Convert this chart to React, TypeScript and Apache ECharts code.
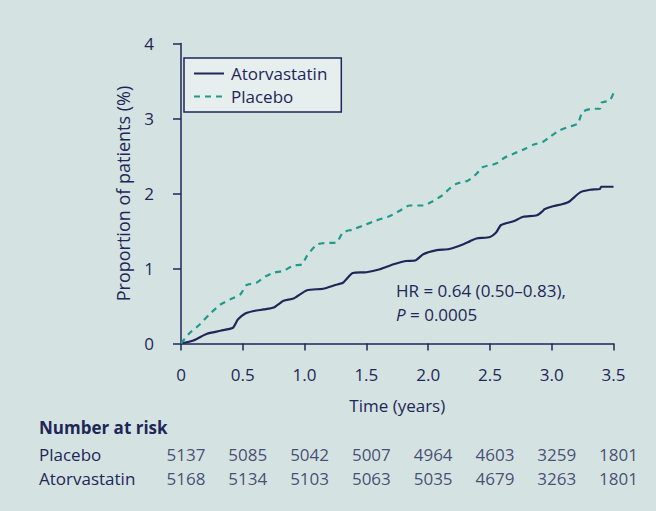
import React, { useEffect, useRef } from "react";
import * as echarts from "echarts";

const NAVY = "#1f2658";
const TEAL = "#1f9a8c";
const BG = "#d4e3e1";
const FONT = "Open Sans";

const riskTimes = [0, 0.5, 1, 1.5, 2, 2.5, 3, 3.5];
const riskGroups = ["Placebo", "Atorvastatin"];
const placeboRisk = [5137, 5085, 5042, 5007, 4964, 4603, 3259, 1801];
const atorvaRisk = [5168, 5134, 5103, 5063, 5035, 4679, 3263, 1801];

const atorvastatin = [
  [0, 0], [0.1, 0.04], [0.21, 0.13], [0.32, 0.17], [0.42, 0.21], [0.46, 0.32], [0.52, 0.4],
  [0.58, 0.43], [0.67, 0.455], [0.75, 0.48], [0.83, 0.57], [0.91, 0.6], [1.02, 0.71],
  [1.15, 0.73], [1.25, 0.78], [1.31, 0.81], [1.39, 0.94], [1.5, 0.95], [1.61, 0.99],
  [1.72, 1.056], [1.82, 1.1], [1.9, 1.11], [1.96, 1.19], [2.07, 1.245], [2.17, 1.26],
  [2.28, 1.32], [2.34, 1.365], [2.39, 1.4], [2.5, 1.42], [2.55, 1.48], [2.59, 1.58],
  [2.69, 1.63], [2.77, 1.69], [2.88, 1.71], [2.93, 1.77], [2.94, 1.79], [3.01, 1.83],
  [3.09, 1.86], [3.14, 1.89], [3.23, 2.015], [3.31, 2.05], [3.39, 2.06], [3.4, 2.09], [3.5, 2.09],
];

const placebo = [
  [0, 0], [0.07, 0.14], [0.15, 0.25], [0.23, 0.39], [0.32, 0.52], [0.4, 0.59], [0.48, 0.655],
  [0.53, 0.78], [0.61, 0.81], [0.69, 0.9], [0.75, 0.945], [0.83, 0.97], [0.91, 1.04],
  [0.98, 1.056], [1.02, 1.17], [1.1, 1.32], [1.18, 1.34], [1.26, 1.35], [1.31, 1.48],
  [1.39, 1.52], [1.47, 1.57], [1.58, 1.64], [1.69, 1.7], [1.77, 1.77], [1.85, 1.84],
  [1.96, 1.84], [2.03, 1.89], [2.11, 1.97], [2.17, 2.06], [2.23, 2.13], [2.32, 2.17],
  [2.39, 2.26], [2.44, 2.35], [2.55, 2.4], [2.62, 2.48], [2.69, 2.53], [2.79, 2.6],
  [2.85, 2.65], [2.93, 2.69], [2.98, 2.75], [3.06, 2.84], [3.14, 2.89], [3.21, 2.93],
  [3.25, 3.09], [3.33, 3.13], [3.39, 3.13], [3.4, 3.21], [3.47, 3.24], [3.5, 3.34],
];

export default function App() {
  const ref = useRef<HTMLDivElement>(null);
  useEffect(() => {
    document.body.style.margin = "0";
    const chart = echarts.init(ref.current!, null, { renderer: "svg" });
    const riskData: any[] = [];
    riskTimes.forEach((t, i) => {
      riskData.push([t, 0, placeboRisk[i]]);
      riskData.push([t, 1, atorvaRisk[i]]);
    });
    const txt = { color: NAVY, fontFamily: FONT, fontSize: 17 };
    chart.setOption({
      animation: false,
      backgroundColor: BG,
      textStyle: { fontFamily: FONT, color: NAVY },
      grid: [
        { left: 181, right: 42.5, top: 43.5, bottom: 167.5 },
        { left: 181, right: 42.5, top: 442, height: 48 },
      ],
      legend: {
        orient: "vertical",
        left: 184,
        top: 58,
        padding: [7, 14, 7, 9],
        itemGap: 6,
        itemWidth: 30,
        itemHeight: 12,
        itemStyle: { opacity: 0 },
        backgroundColor: "#e6efee",
        borderColor: NAVY,
        borderWidth: 1.5,
        borderRadius: 0,
        textStyle: { ...txt, padding: [0, 0, 0, 2] },
        data: ["Atorvastatin", "Placebo"],
      },
      xAxis: [
        {
          type: "value",
          gridIndex: 0,
          min: 0,
          max: 3.5,
          interval: 0.5,
          offset: 9,
          name: "Time (years)",
          nameLocation: "middle",
          nameGap: 44,
          nameTextStyle: txt,
          axisLine: { show: true, lineStyle: { color: NAVY, width: 1.5 } },
          axisTick: { show: true, length: 7, lineStyle: { color: NAVY, width: 1.5 } },
          axisLabel: {
            ...txt,
            margin: 13,
            formatter: (v: number) => (v === 0 ? "0" : v.toFixed(1)),
          },
          splitLine: { show: false },
        },
        {
          type: "value",
          gridIndex: 1,
          min: 0,
          max: 3.5,
          show: false,
        },
      ],
      yAxis: [
        {
          type: "value",
          gridIndex: 0,
          min: 0,
          max: 4,
          interval: 1,
          offset: 13,
          name: "Proportion of patients (%)",
          nameLocation: "middle",
          nameGap: 36,
          nameTextStyle: { ...txt, fontSize: 18 },
          axisLine: { show: true, lineStyle: { color: NAVY, width: 1.5 } },
          axisTick: { show: true, length: 8, lineStyle: { color: NAVY, width: 1.5 } },
          axisLabel: { ...txt, margin: 14 },
          splitLine: { show: false },
        },
        {
          type: "category",
          gridIndex: 1,
          data: riskGroups,
          inverse: true,
          axisLine: { show: false },
          axisTick: { show: false },
          axisLabel: { ...txt, align: "left", margin: 142 },
        },
      ],
      graphic: [
        {
          type: "text",
          left: 39,
          top: 419,
          style: { text: "Number at risk", font: `bold 17px "${FONT}"`, fill: NAVY },
        },
        {
          type: "text",
          left: 396,
          top: 282,
          style: { text: "HR = 0.64 (0.50–0.83),", font: `17px "${FONT}"`, fill: NAVY },
        },
        {
          type: "text",
          left: 396,
          top: 306,
          style: {
            text: "{i|P} = 0.0005",
            font: `17px "${FONT}"`,
            fill: NAVY,
            rich: { i: { fontStyle: "italic", fontFamily: FONT, fontSize: 17, fill: NAVY } },
          },
        },
      ],
      series: [
        {
          name: "Atorvastatin",
          type: "line",
          xAxisIndex: 0,
          yAxisIndex: 0,
          data: atorvastatin,
          symbol: "none",
          smooth: 0.2,
          lineStyle: { color: NAVY, width: 2.2 },
          itemStyle: { color: NAVY },
        },
        {
          name: "Placebo",
          type: "line",
          xAxisIndex: 0,
          yAxisIndex: 0,
          data: placebo,
          symbol: "none",
          smooth: 0.2,
          lineStyle: { color: TEAL, width: 2.2, type: [6, 5] },
          itemStyle: { color: TEAL },
        },
        {
          type: "scatter",
          xAxisIndex: 1,
          yAxisIndex: 1,
          data: riskData,
          symbolSize: 0,
          silent: true,
          label: {
            show: true,
            position: "inside",
            offset: [5, 0],
            ...txt,
            formatter: (p: any) => String(p.value[2]),
          },
        },
      ],
    });
    return () => chart.dispose();
  }, []);
  return <div ref={ref} style={{ width: 656, height: 511 }} />;
}
